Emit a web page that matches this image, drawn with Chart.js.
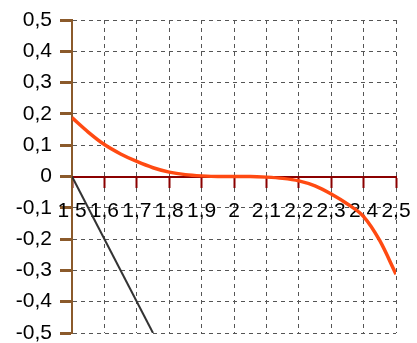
<!DOCTYPE html>
<html>
<head>
<meta charset="utf-8">
<script src="https://cdn.jsdelivr.net/npm/chart.js@4/dist/chart.umd.min.js"></script>
<style>
html,body{margin:0;padding:0;background:#fff;}
#wrap{width:417px;height:343px;}
</style>
</head>
<body>
<div id="wrap"><canvas id="c" width="417" height="343"></canvas></div>
<script>
const curveX = [1.5,1.55,1.6,1.65,1.7,1.75,1.8,1.85,1.9,1.95,2.0,2.05,2.1,2.15,2.2,2.25,2.3,2.35,2.4,2.45,2.5];
const curveY = [0.188,0.142,0.102,0.072,0.048,0.028,0.014,0.006,0.002,0.000,0,0,-0.002,-0.006,-0.014,-0.030,-0.056,-0.088,-0.128,-0.205,-0.312];
const lineX = [1.5,1.75];
const lineY = [0,-0.5];
const xTickLabels = ['1,5','1,6','1,7','1,8','1,9','2','2,1','2,2','2,3','2,4','2,5'];
const yTickLabels = ['-0,5','-0,4','-0,3','-0,2','-0,1','0','0,1','0,2','0,3','0,4','0,5'];

const curveData = curveX.map((x,i)=>({x:x,y:curveY[i]}));
const lineData = lineX.map((x,i)=>({x:x,y:lineY[i]}));
const FONT = '"Liberation Sans", Arial, sans-serif';

new Chart(document.getElementById('c'), {
  type: 'line',
  data: {
    datasets: [
      {data: lineData, borderColor:'#333333', borderWidth:2, pointRadius:0, tension:0, fill:false},
      {data: curveData, borderColor:'#ff4a12', borderWidth:3.5, pointRadius:0, tension:0.4, cubicInterpolationMode:'monotone', fill:false}
    ]
  },
  options: {
    responsive:false,
    animation:false,
    events:[],
    layout:{padding:{top:20,right:21,bottom:10,left:0}},
    plugins:{legend:{display:false},tooltip:{enabled:false}},
    scales:{
      x:{
        type:'linear',
        position:{y:0},
        min:1.5, max:2.5,
        afterFit:(s)=>{s.paddingLeft=0; s.paddingRight=0;},
        ticks:{stepSize:0.1, autoSkip:false, maxRotation:0, minRotation:0, color:'#000', padding:12,
          font:{family:FONT, size:21},
          callback:(v)=>xTickLabels[Math.round((v-1.5)*10)]},
        grid:{color:'#555', lineWidth:1, tickColor:'#8b0000', tickLength:10, tickWidth:2},
        border:{display:true, color:'#8b0000', width:2, dash:[4,4]}
      },
      y:{
        type:'linear',
        min:-0.5, max:0.5,
        afterFit:(s)=>{s.width=72; s.paddingTop=0; s.paddingBottom=0;},
        ticks:{stepSize:0.1, autoSkip:false, color:'#000', padding:8,
          font:{family:FONT, size:21},
          callback:(v)=>yTickLabels[Math.round((v+0.5)*10)]},
        grid:{color:'#555', lineWidth:1, tickColor:'#8b5a2b', tickLength:12, tickWidth:3},
        border:{display:true, color:'#8b5a2b', width:2, dash:[4,4]}
      }
    }
  }
});
</script>
</body>
</html>
